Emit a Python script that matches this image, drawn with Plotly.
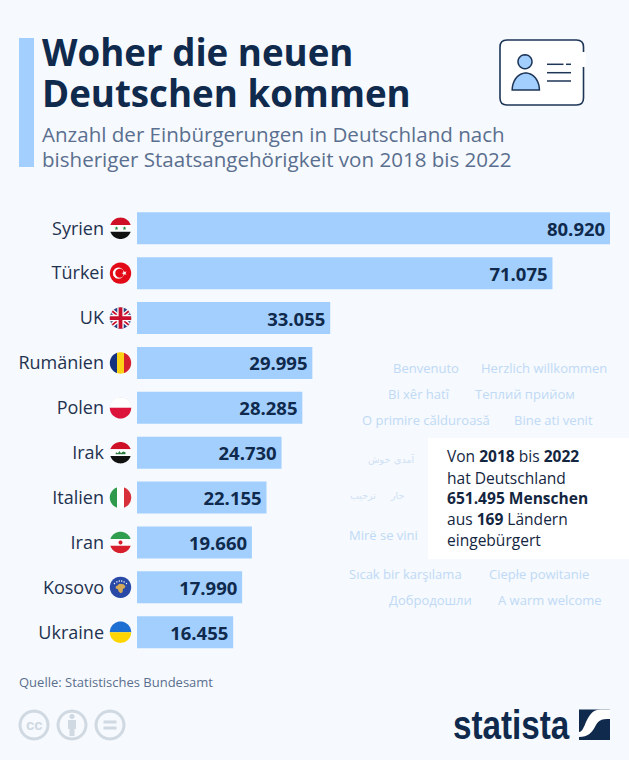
import numpy as np
import plotly.graph_objects as go

# chart data
countries = ["Syrien", "Türkei", "UK", "Rumänien", "Polen", "Irak", "Italien", "Iran", "Kosovo", "Ukraine"]
naturalizations = [80920, 71075, 33055, 29995, 28285, 24730, 22155, 19660, 17990, 16455]

title_lines = ["Woher die neuen", "Deutschen kommen"]
subtitle_lines = ["Anzahl der Einbürgerungen in Deutschland nach",
                  "bisheriger Staatsangehörigkeit von 2018 bis 2022"]
source = "Quelle: Statistisches Bundesamt"
box_lines = ["Von <b>2018</b> bis <b>2022</b>", "hat Deutschland", "<b>651.495 Menschen</b>",
             "aus <b>169</b> Ländern", "eingebürgert"]
# text, left edge and vertical centre in pixels
greetings = [
    ("Benvenuto", 393, 368), ("Herzlich willkommen", 481, 368),
    ("Bi xêr hatî", 388, 394), ("Теплий прийом", 475, 394),
    ("O primire călduroasă", 362, 420), ("Bine ati venit", 514, 420),
    ("Mirë se vini", 349, 535),
    ("Sıcak bir karşılama", 349, 574), ("Ciepłe powitanie", 489, 574),
    ("Добродошли", 389, 600), ("A warm welcome", 498, 600),
]
# the reference runs these words left to right, so each one is placed on its own
arabic_words = [("خوش", 368, 459, "left"), ("آمدی", 415, 459, "right"),
                ("ترحيب", 350, 495, "left"), ("حار", 404, 495, "right")]

W, H = 629, 760
BG = "#f6f9fd"
BAR = "#a3cffe"
NAVY = "#0f2a4c"
FONT = "Open Sans"
GREY = "#d0d9e2"


def pts(points, close=True):
    # y goes down here, plotly wants it up in pixel mode
    s = "M " + " L ".join(f"{x:.2f},{-y:.2f}" for x, y in points)
    return s + (" Z" if close else "")


def band(v0, v1, angle=0, r=10.7, cx=0, cy=0):
    # slice of a circle between two parallel lines, used for the flags
    a0, a1 = np.arcsin(v0 / r), np.arcsin(v1 / r)
    t = np.concatenate([np.linspace(a0, a1, 14), np.linspace(np.pi - a1, np.pi - a0, 14)])
    u, v = r * np.cos(t), r * np.sin(t)
    c, s = np.cos(np.radians(angle)), np.sin(np.radians(angle))
    return pts(list(zip(cx + u * c - v * s, cy + u * s + v * c)))


def disc(cx, cy, r):
    return band(-r, r, 0, r, cx, cy)


def star(cx, cy, r, rot=-90):
    p = []
    for i in range(10):
        rr = r if i % 2 == 0 else r * 0.42
        a = np.radians(rot + i * 36)
        p.append((cx + rr * np.cos(a), cy + rr * np.sin(a)))
    return pts(p)


R = 10.7
flags = {
    "Syrien": [(band(-R, -3.4), "#ce1126"), (band(-3.4, 3.4), "#ffffff"), (band(3.4, R), "#111111"),
               (star(-4, 0, 2), "#1f8a3b"), (star(4, 0, 2), "#1f8a3b")],
    "Türkei": [(disc(0, 0, R), "#e30a17"), (disc(-2, 0, 5.6), "#ffffff"), (disc(-0.7, 0, 4.5), "#e30a17"),
               (star(3.8, 0, 2.8, 180), "#ffffff")],
    "UK": [(disc(0, 0, R), "#27407f"), (band(-2.2, 2.2, 40), "#ffffff"), (band(-2.2, 2.2, -40), "#ffffff"),
           (band(-0.9, 0.9, 40), "#c8102e"), (band(-0.9, 0.9, -40), "#c8102e"),
           (band(-3.2, 3.2), "#ffffff"), (band(-3.2, 3.2, 90), "#ffffff"),
           (band(-1.9, 1.9), "#c8102e"), (band(-1.9, 1.9, 90), "#c8102e")],
    "Rumänien": [(band(-R, -3.5, 90), "#d5202f"), (band(-3.5, 3.5, 90), "#fcd116"), (band(3.5, R, 90), "#15307f")],
    "Polen": [(disc(0, 0, R), "#d9dde2"), (band(-10.2, 0), "#ffffff"), (band(0, R), "#dc143c")],
    "Irak": [(band(-R, -3.4), "#ce1126"), (band(-3.4, 3.4), "#ffffff"), (band(3.4, R), "#111111"),
             (pts([(-5, 1.5), (-4.5, -0.5), (-2.5, 0.6), (-1, -1.6), (0.5, 0.6), (2.5, -1.2), (5, -0.4), (5, 1.5)]), "#2b7a3e")],
    "Italien": [(band(-R, -3.5, 90), "#d8303a"), (band(-3.5, 3.5, 90), "#ffffff"), (band(3.5, R, 90), "#2f9a4c")],
    "Iran": [(band(-R, -3.4), "#2f9e4f"), (band(-3.4, 3.4), "#ffffff"), (band(3.4, R), "#d8202c"),
             (disc(0, 0, 2), "#d8202c")],
    "Kosovo": [(disc(0, 0, R), "#2849a6"),
               (pts([(-1.5, -3.5), (3, -3), (5, -1), (4, 1), (2.5, 1.5), (2, 5), (0, 6), (-2, 4), (-2.5, 2),
                     (-5, 1), (-4.5, -1), (-2.5, -2)]), "#d2aa5a"),
               (disc(-6, -3.8, 0.7), "#ffffff"), (disc(-3.6, -5.4, 0.7), "#ffffff"), (disc(-1.2, -6.3, 0.7), "#ffffff"),
               (disc(1.2, -6.3, 0.7), "#ffffff"), (disc(3.6, -5.4, 0.7), "#ffffff"), (disc(6, -3.8, 0.7), "#ffffff")],
    "Ukraine": [(band(-R, 0), "#1e6fd2"), (band(0, R), "#ffd500")],
}

fig = go.Figure(go.Bar(
    x=naturalizations, y=countries, orientation="h",
    marker=dict(color=BAR, line_width=0),
    texttemplate="%{x:,d}\u200a", textposition="inside", insidetextanchor="end", textangle=0,
    textfont=dict(family=FONT, size=18.5, color=NAVY, weight=700),
    cliponaxis=False, hoverinfo="skip",
))

shapes = []


def add(path, fill, line=None, width=0):
    # path given in page pixels, measured from the top left corner
    shapes.append(dict(type="path", path=path, xref="paper", yref="paper", xsizemode="pixel", ysizemode="pixel",
                       xanchor=0, yanchor=1, fillcolor=fill, layer="below",
                       line=dict(color=line or "rgba(0,0,0,0)", width=width)))


def rect(x0, y0, x1, y1):
    return pts([(x0, y0), (x1, y0), (x1, y1), (x0, y1)])


def rounded(x0, y0, x1, y1, r):
    return (f"M {x0 + r},{-y0} L {x1 - r},{-y0} Q {x1},{-y0} {x1},{-y0 - r} L {x1},{-y1 + r} Q {x1},{-y1} {x1 - r},{-y1} "
            f"L {x0 + r},{-y1} Q {x0},{-y1} {x0},{-y1 + r} L {x0},{-y0 - r} Q {x0},{-y0} {x0 + r},{-y0} Z")


# accent bar and white info box
add(rect(19, 38, 34, 167), BAR)
add(rect(428, 438, 629, 559), "#ffffff")

# id card icon
add(rounded(500, 40, 583.5, 105, 7), "#ffffff", "#1d3557", 1.6)
add(rect(581, 52, 586, 67), "#ffffff")
add(disc(525, 61.7, 7), BAR, "#1d3557", 1.5)
t = np.linspace(np.pi, 2 * np.pi, 24)
add(pts(list(zip(525.8 + 13.6 * np.cos(t), 90 + 17 * np.sin(t)))), BAR, "#1d3557", 1.5)
for x0, x1, y in [(547, 563.5, 64.3), (566, 571, 64.3), (547, 571, 72.7), (547, 571, 81)]:
    add(pts([(x0, y), (x1, y)], close=False), "rgba(0,0,0,0)", "#1d3557", 1.5)

# cc badges
for cx in [34, 72, 110]:
    add(disc(cx, 725, 14), "rgba(0,0,0,0)", GREY, 3)
add(disc(72, 716.5, 2.6), GREY)
add(rect(68, 720, 76, 729), GREY)
add(rect(69.5, 729, 74.5, 736), GREY)
add(rect(103.5, 720.5, 116.5, 723.5), GREY)
add(rect(103.5, 726.5, 116.5, 729.5), GREY)

# statista mark
add(rect(579, 709.5, 610, 740), NAVY)
add("M 610,-709.5 L 601,-709.5 C 592,-709.5 589,-716 586,-722 C 584,-727 582,-732 579,-732 "
    "L 579,-737 C 588,-737 592,-733 596,-725 C 599,-720 601,-719 610,-719 Z", "#ffffff")

# flags sit on the category axis
for name in countries:
    for path, fill in flags[name]:
        shapes.append(dict(type="path", path=path, xref="paper", yref="y", xsizemode="pixel", ysizemode="pixel",
                           xanchor=120.5 / W, yanchor=name, fillcolor=fill, layer="above", line_width=0))


def label(text, x, y, size, color, weight=400, family=FONT, anchor="left"):
    return dict(text=text, x=x / W, y=1 - y / H, xref="paper", yref="paper", xanchor=anchor, yanchor="middle",
                showarrow=False, align="left", borderpad=0, borderwidth=0,
                font=dict(family=family, size=size, color=color, weight=weight))


annotations = []
for line, y in zip(title_lines, [52, 93]):
    annotations.append(label(line, 41.5, y, 36.7, NAVY, 700))
for line, y in zip(subtitle_lines, [134, 159]):
    annotations.append(label(line, 42, y, 20.55, "#5a6f8f"))
for text, x, y in greetings:
    annotations.append(label(text, x, y, 13, "#bfd9f6"))
for text, x, y, side in arabic_words:
    annotations.append(label(text, x, y, 9.5, "#cfe1f6", family="DejaVu Sans", anchor=side))
for line, y in zip(box_lines, [456.5, 477.5, 498, 519, 540]):
    annotations.append(label(line, 447, y, 15.55, "#14263f"))
annotations.append(label(source, 19, 682, 13, "#5a6f8f"))
annotations.append(label("cc", 34, 724.5, 15, GREY, 700, "Liberation Sans", "center"))
annotations.append(label("statista", 453, 725, 41, NAVY, 700, "Liberation Sans"))

fig.update_layout(
    width=W, height=H, autosize=False,
    margin=dict(l=0, r=0, t=0, b=0, pad=0),
    paper_bgcolor=BG, plot_bgcolor=BG,
    separators=",.",
    bargap=0.287, showlegend=False,
    shapes=shapes, annotations=annotations,
    xaxis=dict(domain=[137 / W, 610 / W], range=[0, naturalizations[0]], visible=False),
    yaxis=dict(domain=[1 - 654.65 / H, 1 - 205.85 / H], autorange="reversed", showline=False, showgrid=False,
               ticks="", ticklabelstandoff=32,
               tickfont=dict(family=FONT, size=18, color="#1f3350")),
)

# no default page margin around the chart; the logo word is squeezed since no narrow font is installed
post = """
document.body.style.margin = '0';
document.body.style.background = '%s';
document.querySelectorAll('.annotation-text').forEach(function (el) {
    if (el.textContent === 'statista') {
        var b = el.getBBox();
        el.setAttribute('transform', 'translate(' + b.x + ',0) scale(0.81,1) translate(' + (-b.x) + ',0)');
    }
});
""" % BG
fig.write_html("out.html", config=dict(displayModeBar=False), post_script=post)
